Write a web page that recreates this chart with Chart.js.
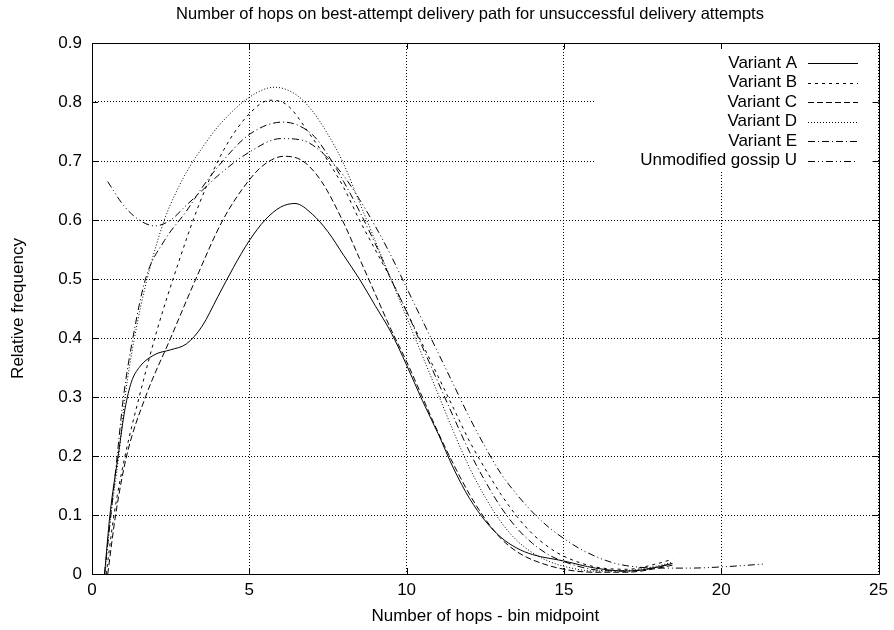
<!DOCTYPE html>
<html><head><meta charset="utf-8">
<script src="https://cdn.jsdelivr.net/npm/chart.js@4.4.0/dist/chart.umd.min.js"></script>
<style>html,body{margin:0;padding:0;background:#fff}#wrap{width:894px;height:630px}</style>
</head><body><div id="wrap"><canvas id="c" width="894" height="630"></canvas></div>
<script>
const chartTitle = "Number of hops on best-attempt delivery path for unsuccessful delivery attempts";
const xAxisTitle = "Number of hops - bin midpoint";
const yAxisTitle = "Relative frequency";
const xTicks = [0, 5, 10, 15, 20, 25];
const yTicks = [0, 0.1, 0.2, 0.3, 0.4, 0.5, 0.6, 0.7, 0.8, 0.9];
const seriesNames = ["Variant A", "Variant B", "Variant C", "Variant D", "Variant E", "Unmodified gossip U"];

const variantAX = [0.4, 0.57, 0.83, 1.05, 1.25, 1.5, 2.0, 2.5, 3.0, 3.5, 4.0, 4.5, 5.0, 5.5, 6.0, 6.45, 7.0, 7.5, 8.0, 8.5, 9.0, 9.5, 10.0, 10.5, 11.0, 11.5, 12.0, 12.5, 13.0, 13.5, 14.0, 15.0, 16.0, 17.0, 17.5, 18.0, 18.45];
const variantAY = [0, 0.1, 0.2, 0.28, 0.325, 0.35, 0.372, 0.38, 0.39, 0.42, 0.47, 0.52, 0.565, 0.6, 0.622, 0.628, 0.61, 0.58, 0.54, 0.5, 0.455, 0.41, 0.354, 0.294, 0.238, 0.178, 0.128, 0.09, 0.062, 0.044, 0.033, 0.022, 0.01, 0.005, 0.007, 0.012, 0.018];

const variantBX = [0.45, 0.7, 1.05, 1.5, 2.05, 2.7, 3.43, 4.2, 5.0, 5.65, 6.2, 6.9, 7.5, 8.0, 8.5, 9.0, 9.5, 10.0, 10.5, 11.0, 11.5, 12.0, 12.5, 13.0, 13.5, 14.0, 14.5, 15.0, 16.0, 17.0, 18.0, 18.45];
const variantBY = [0, 0.1, 0.2, 0.3, 0.41, 0.52, 0.63, 0.72, 0.78, 0.803, 0.795, 0.747, 0.7, 0.655, 0.6, 0.55, 0.5, 0.445, 0.39, 0.335, 0.28, 0.225, 0.178, 0.135, 0.098, 0.068, 0.046, 0.03, 0.012, 0.008, 0.018, 0.025];

const variantCX = [0.5, 0.75, 1.1, 1.7, 2.5, 3.3, 4.16, 5.0, 5.5, 6.1, 6.7, 7.3, 8.0, 8.5, 9.0, 9.5, 10.0, 10.5, 11.0, 11.5, 12.0, 12.5, 13.0, 13.5, 14.0, 15.0, 16.0, 17.0, 18.0, 18.45];
const variantCY = [0, 0.1, 0.2, 0.3, 0.4, 0.5, 0.6, 0.668, 0.695, 0.708, 0.7, 0.665, 0.595, 0.535, 0.475, 0.415, 0.36, 0.3, 0.24, 0.185, 0.135, 0.093, 0.06, 0.038, 0.024, 0.008, 0.003, 0.003, 0.01, 0.015];

const variantDX = [0.4, 0.6, 0.85, 1.05, 1.35, 1.75, 2.3, 2.7, 3.1, 3.5, 4.0, 5.0, 5.8, 6.5, 7.0, 7.5, 8.0, 8.5, 9.0, 9.5, 10.0, 10.5, 11.0, 11.5, 12.0, 12.5, 13.0, 13.5, 14.0, 14.5, 15.0, 16.0, 17.0, 18.0, 18.45];
const variantDY = [0, 0.1, 0.2, 0.3, 0.4, 0.5, 0.6, 0.65, 0.69, 0.722, 0.758, 0.808, 0.825, 0.812, 0.785, 0.745, 0.695, 0.63, 0.565, 0.5, 0.435, 0.37, 0.305, 0.24, 0.18, 0.13, 0.088, 0.057, 0.036, 0.022, 0.013, 0.005, 0.006, 0.014, 0.02];

const variantEX = [0.4, 0.6, 0.8, 1.0, 1.3, 1.7, 2.3, 3.0, 3.5, 4.0, 5.0, 6.07, 7.0, 7.5, 8.0, 8.5, 9.0, 9.5, 10.0, 10.5, 11.0, 11.5, 12.0, 12.5, 13.0, 13.5, 14.0, 14.5, 15.0, 16.0, 17.0, 18.0, 18.45];
const variantEY = [0, 0.1, 0.2, 0.3, 0.4, 0.5, 0.565, 0.615, 0.655, 0.69, 0.745, 0.766, 0.745, 0.71, 0.665, 0.615, 0.56, 0.5, 0.445, 0.385, 0.325, 0.265, 0.207, 0.157, 0.113, 0.078, 0.052, 0.033, 0.021, 0.007, 0.005, 0.012, 0.018];

const gossipUX = [0.5, 1.0, 1.5, 2.0, 2.5, 3.0, 3.5, 4.0, 5.0, 6.0, 6.7, 7.5, 8.0, 8.5, 9.0, 9.5, 10.0, 10.5, 11.0, 11.5, 12.0, 12.5, 13.0, 13.5, 14.0, 14.5, 15.0, 15.5, 16.0, 16.5, 17.0, 18.0, 19.0, 20.0, 21.4];
const gossipUY = [0.665, 0.625, 0.6, 0.59, 0.6, 0.625, 0.65, 0.675, 0.715, 0.738, 0.735, 0.705, 0.675, 0.635, 0.59, 0.54, 0.485, 0.43, 0.375, 0.32, 0.265, 0.215, 0.17, 0.135, 0.105, 0.08, 0.06, 0.043, 0.03, 0.02, 0.014, 0.01, 0.01, 0.012, 0.017];

const seriesX = [variantAX, variantBX, variantCX, variantDX, variantEX, gossipUX];
const seriesY = [variantAY, variantBY, variantCY, variantDY, variantEY, gossipUY];
const dashes = [[], [3, 4], [6, 3], [1, 2], [7, 3, 1, 3], [7, 3, 1, 3, 1, 3]];

const FONT = "'Liberation Sans', Arial, sans-serif";
const FS = 17;

const datasets = seriesNames.map((name, i) => ({
  label: name,
  data: seriesX[i].map((x, j) => ({x: x, y: seriesY[i][j]})),
  borderColor: '#000',
  borderWidth: 1,
  borderDash: dashes[i],
  pointRadius: 0,
  fill: false,
  cubicInterpolationMode: 'monotone'
}));

const LEG = {x0: 596, y1: 170};

const decor = {
  id: 'decor',
  beforeDatasetsDraw(chart) {
    const ctx = chart.ctx, a = chart.chartArea;
    ctx.save();
    ctx.fillStyle = '#fff';
    ctx.fillRect(LEG.x0, a.top + 1, a.right - LEG.x0 - 1, LEG.y1 - a.top);
    ctx.restore();
  },
  afterDatasetsDraw(chart) {
    const ctx = chart.ctx, a = chart.chartArea;
    const xs = chart.scales.x, ys = chart.scales.y;
    ctx.save();
    ctx.strokeStyle = '#000';
    ctx.lineWidth = 1;
    ctx.setLineDash([]);
    ctx.beginPath();
    ctx.rect(Math.round(a.left) + 0.5, Math.round(a.top) + 0.5, Math.round(a.right - a.left), Math.round(a.bottom - a.top));
    ctx.stroke();
    const tl = 6;
    ctx.beginPath();
    xTicks.forEach(v => {
      const px = Math.round(xs.getPixelForValue(v)) + 0.5;
      ctx.moveTo(px, a.bottom); ctx.lineTo(px, a.bottom - tl);
      ctx.moveTo(px, a.top); ctx.lineTo(px, a.top + tl);
    });
    yTicks.forEach(v => {
      const py = Math.round(ys.getPixelForValue(v)) + 0.5;
      ctx.moveTo(a.left, py); ctx.lineTo(a.left + tl, py);
      ctx.moveTo(a.right, py); ctx.lineTo(a.right - tl, py);
    });
    ctx.stroke();
    // legend
    ctx.font = FS + 'px ' + FONT;
    ctx.fillStyle = '#000';
    ctx.textAlign = 'right';
    ctx.textBaseline = 'middle';
    seriesNames.forEach((n, i) => {
      const y = 63 + i * 19.5;
      ctx.fillText(n, 797, y);
      ctx.setLineDash(dashes[i]);
      ctx.beginPath();
      ctx.moveTo(808, Math.round(y) + 0.5);
      ctx.lineTo(858, Math.round(y) + 0.5);
      ctx.stroke();
    });
    ctx.setLineDash([]);
    // title
    ctx.font = '16.5px ' + FONT;
    ctx.textAlign = 'center';
    ctx.fillText(chartTitle, 470, 14);
    ctx.restore();
  }
};

new Chart(document.getElementById('c'), {
  type: 'line',
  data: {datasets},
  plugins: [decor],
  options: {
    responsive: false,
    animation: false,
    devicePixelRatio: 1,
    layout: {padding: {left: 0, right: 15, top: 43, bottom: 0}},
    plugins: {legend: {display: false}, title: {display: false}, tooltip: {enabled: false}},
    scales: {
      x: {
        type: 'linear', min: 0, max: 25,
        afterBuildTicks: s => { s.ticks = xTicks.map(v => ({value: v})); },
        afterFit: s => { s.height = 56; },
        ticks: {color: '#000', font: {family: FONT, size: FS}, padding: 6, maxRotation: 0},
        grid: {color: '#000', lineWidth: 1, drawTicks: false},
        border: {display: false, dash: [1, 2]},
        title: {display: true, text: xAxisTitle, color: '#000', font: {family: FONT, size: FS}, padding: {top: 0, bottom: 3}}
      },
      y: {
        type: 'linear', min: 0, max: 0.9,
        afterBuildTicks: s => { s.ticks = yTicks.map(v => ({value: v})); },
        afterFit: s => { s.width = 92; },
        ticks: {color: '#000', font: {family: FONT, size: FS}, padding: 10, callback: v => String(v)},
        grid: {color: '#000', lineWidth: 1, drawTicks: false},
        border: {display: false, dash: [1, 2]},
        title: {display: true, text: yAxisTitle, color: '#000', font: {family: FONT, size: FS}, padding: {top: 8, bottom: 0}}
      }
    }
  }
});
</script>
</body></html>
